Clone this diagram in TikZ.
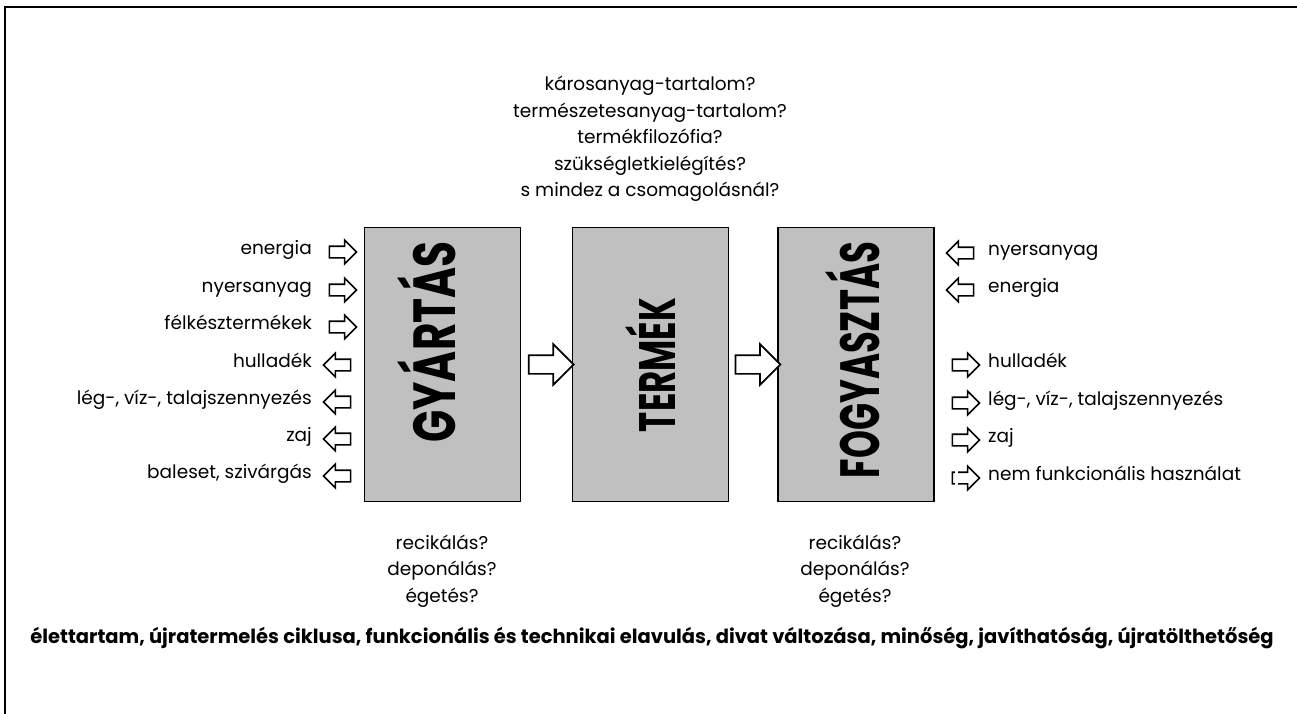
\documentclass[tikz,border=0pt]{standalone}
\usepackage{fontspec}
\setmainfont{Poppins}
\usetikzlibrary{shapes.arrows,calc}
\definecolor{boxgray}{RGB}{192,192,192}
\begin{document}
\begin{tikzpicture}[x=1pt,y=-1pt,
  box/.style={draw,line width=1.7pt,fill=boxgray,minimum width=156pt,minimum height=274pt,inner sep=0pt},
  bigarr/.style={single arrow,draw,fill=white,line width=1.7pt,minimum height=45pt,inner sep=0pt,inner ysep=8.5pt,single arrow head extend=11pt},
  smallarr/.style={single arrow,draw,fill=white,line width=1.6pt,minimum height=27pt,inner sep=0pt,inner ysep=5pt,single arrow head extend=6pt},
  lbl/.style={font=\fontsize{18.5}{26.5}\selectfont,inner sep=0pt},
  biglbl/.style={rotate=90,inner sep=0pt,font=\bfseries},
  botlbl/.style={font=\fontsize{19.5}{26}\selectfont\bfseries,inner sep=0pt}]
\useasboundingbox (0,0) rectangle (1297,714);
\draw[line width=1.5pt] (5,714) -- (5,7) -- (1297,7);

% main boxes
\node[box] (g) at (442.5,364.5) {};
\node[box] (t) at (650.5,364.5) {};
\node[box] (f) at (856,364.5) {};

\node[biglbl] (gl) at (427,342) {\resizebox{201pt}{58pt}{GYÁRTÁS}};
\node[biglbl] (tl) at (650,365) {\resizebox{134pt}{50pt}{TERMÉK}};
\node[biglbl] (fl) at (853,360) {\resizebox{236pt}{54pt}{FOGYASZTÁS}};

% big arrows
\node[bigarr] (a1) at ($(g.east)!0.5!(t.west)$) {};
\node[bigarr] (a2) at ($(t.east)!0.5!(f.west)$) {};

% top questions
\node[lbl,align=center] (top) at (650,139) {károsanyag-tartalom?\\természetesanyag-tartalom?\\termékfilozófia?\\szükségletkielégítés?\\s mindez a csomagolásnál?};

% left side
\foreach \i/\txt/\yy/\rot in {1/energia/252/0, 2/nyersanyag/290/0, 3/félkésztermékek/327/0, 4/hulladék/365/180, 5/{lég-, víz-, talajszennyezés}/402/180, 6/zaj/439/180, 7/{baleset, szivárgás}/476/180}{
  \node[smallarr,rotate=\rot] (la\i) at (340,\yy) {};
  \node[lbl,anchor=mid east] (lt\i) at (312,\yy) {\txt};
}

% right side
\foreach \i/\txt/\yy/\rot in {1/nyersanyag/253/180, 2/energia/290/180, 3/hulladék/365/0, 4/{lég-, víz-, talajszennyezés}/403/0, 5/zaj/440/0, 6/{nem funkcionális használat}/478/0}{
  \node[smallarr,rotate=\rot] (ra\i) at (963,\yy) {};
  \node[lbl,anchor=mid west] (rt\i) at (988,\yy) {\txt};
}
\fill[white] ($(ra6.west)+(3.5,-7)$) rectangle ($(ra6.west)+(6.5,7)$);

% bottom questions
\node[lbl,align=center] (bq1) at (442,571) {recikálás?\\deponálás?\\égetés?};
\node[lbl,align=center] (bq2) at (855,571) {recikálás?\\deponálás?\\égetés?};

\node[botlbl] (bottom) at (652,638) {élettartam, újratermelés ciklusa, funkcionális és technikai elavulás, divat változása, minőség, javíthatóság, újratölthetőség};
\end{tikzpicture}
\end{document}
